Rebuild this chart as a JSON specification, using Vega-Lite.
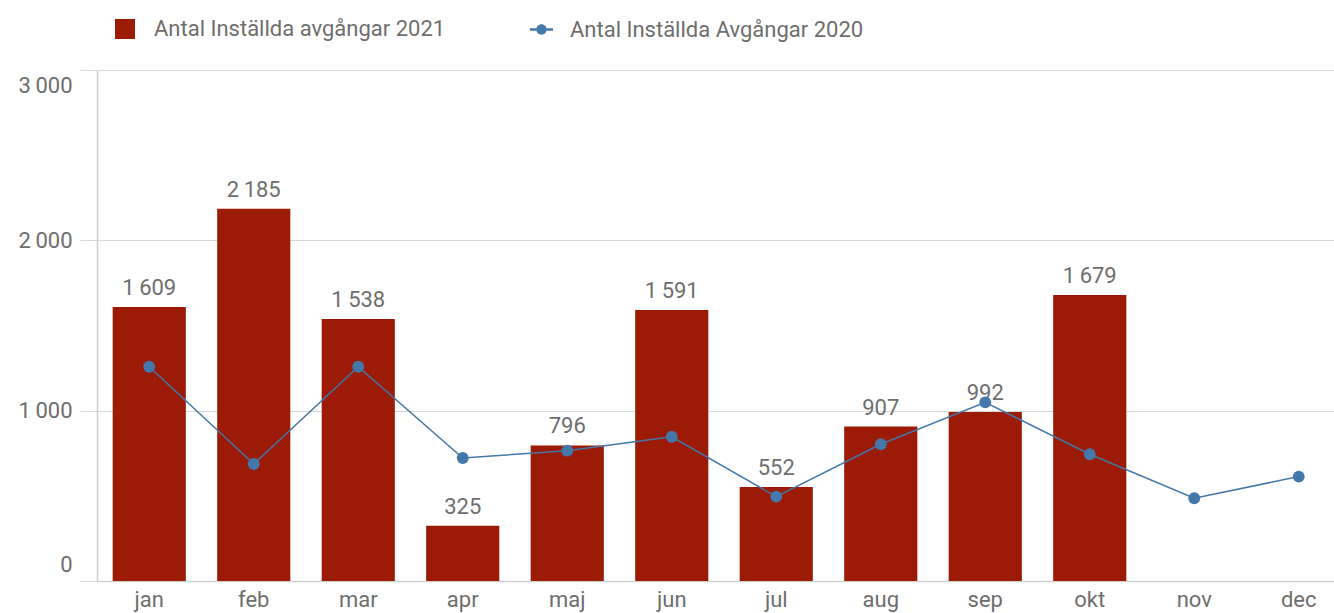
{
  "$schema": "https://vega.github.io/schema/vega-lite/v6.json",
  "width": 1237,
  "height": 511,
  "autosize": {"type": "none"},
  "padding": {"left": 97, "top": 70, "right": 0, "bottom": 32},
  "background": "white",
  "config": {
    "locale": {"number": {"decimal": ",", "thousands": "\u2009", "grouping": [3], "currency": ["", " kr"]}},
    "font": "Roboto",
    "view": {"stroke": null},
    "axis": {"labelFont": "Roboto", "labelFontSize": 22, "labelColor": "#6e6e6e", "title": null}
  },
  "data": {
    "values": [
      {"month": "jan", "v2021": 1609, "v2020": 1258},
      {"month": "feb", "v2021": 2185, "v2020": 687},
      {"month": "mar", "v2021": 1538, "v2020": 1258},
      {"month": "apr", "v2021": 325, "v2020": 722},
      {"month": "maj", "v2021": 796, "v2020": 765},
      {"month": "jun", "v2021": 1591, "v2020": 847},
      {"month": "jul", "v2021": 552, "v2020": 495},
      {"month": "aug", "v2021": 907, "v2020": 803},
      {"month": "sep", "v2021": 992, "v2020": 1049},
      {"month": "okt", "v2021": 1679, "v2020": 744},
      {"month": "nov", "v2021": null, "v2020": 486},
      {"month": "dec", "v2021": null, "v2020": 613}
    ]
  },
  "resolve": {"scale": {"fill": "independent"}, "legend": {"fill": "independent"}},
  "encoding": {
    "x": {
      "field": "month",
      "type": "nominal",
      "sort": null,
      "scale": {"domain": ["jan","feb","mar","apr","maj","jun","jul","aug","sep","okt","nov","dec"], "range": [0, 1254], "paddingInner": 0.3, "paddingOuter": 0.15},
      "axis": {"labelAngle": 0, "ticks": false, "domainColor": "#cfcfcf", "domainWidth": 1.5, "labelPadding": 8, "grid": false}
    }
  },
  "layer": [
    {
      "mark": {"type": "bar"},
      "encoding": {
        "y": {
          "field": "v2021",
          "type": "quantitative",
          "scale": {"domain": [0, 3000], "nice": false},
          "axis": {"values": [0, 1000, 2000, 3000], "format": ",d", "grid": true, "gridColor": "#d9d9d9", "gridWidth": 1, "tickColor": "#d9d9d9", "tickSize": 17, "domainColor": "#cfcfcf", "domainWidth": 1.5, "labelPadding": 8, "labelFlush": true, "labelFlushOffset": -5}
        },
        "fill": {
          "datum": "Antal Inställda avgångar 2021",
          "scale": {"range": ["#9b1b06"]},
          "legend": {"title": null, "orient": "none", "legendX": 17, "legendY": -52, "padding": 0, "symbolType": "square", "symbolSize": 400, "symbolStrokeWidth": 0, "labelFontSize": 22, "labelColor": "#6e6e6e", "labelOffset": 18, "labelFont": "Roboto", "labelLimit": 0}
        }
      }
    },
    {
      "mark": {"type": "text", "baseline": "bottom", "dy": -7, "fontSize": 22, "color": "#6e6e6e", "font": "Roboto"},
      "encoding": {
        "y": {"field": "v2021", "type": "quantitative"},
        "text": {"field": "v2021", "type": "quantitative", "format": ",d"}
      }
    },
    {
      "mark": {"type": "line", "strokeWidth": 1.5, "color": "#4477aa"},
      "encoding": {
        "y": {"field": "v2020", "type": "quantitative"}
      }
    },
    {
      "mark": {"type": "point", "filled": true, "size": 140, "opacity": 1},
      "encoding": {
        "y": {"field": "v2020", "type": "quantitative"},
        "fill": {
          "datum": "Antal Inställda Avgångar 2020",
          "scale": {"range": ["#4477aa"]},
          "legend": {"title": null, "orient": "none", "legendX": 433, "legendY": -52, "padding": 0, "symbolType": "M-1,-0.1H-0.45V0.1H-1Z M0.45,-0.1H1V0.1H0.45Z M-0.45,0A0.45,0.45 0 1,0 0.45,0A0.45,0.45 0 1,0 -0.45,0Z", "symbolSize": 529, "symbolStrokeWidth": 0, "symbolOpacity": 1, "labelFontSize": 22, "labelColor": "#6e6e6e", "labelOffset": 17, "labelFont": "Roboto", "labelLimit": 0}
        }
      }
    }
  ]
}
